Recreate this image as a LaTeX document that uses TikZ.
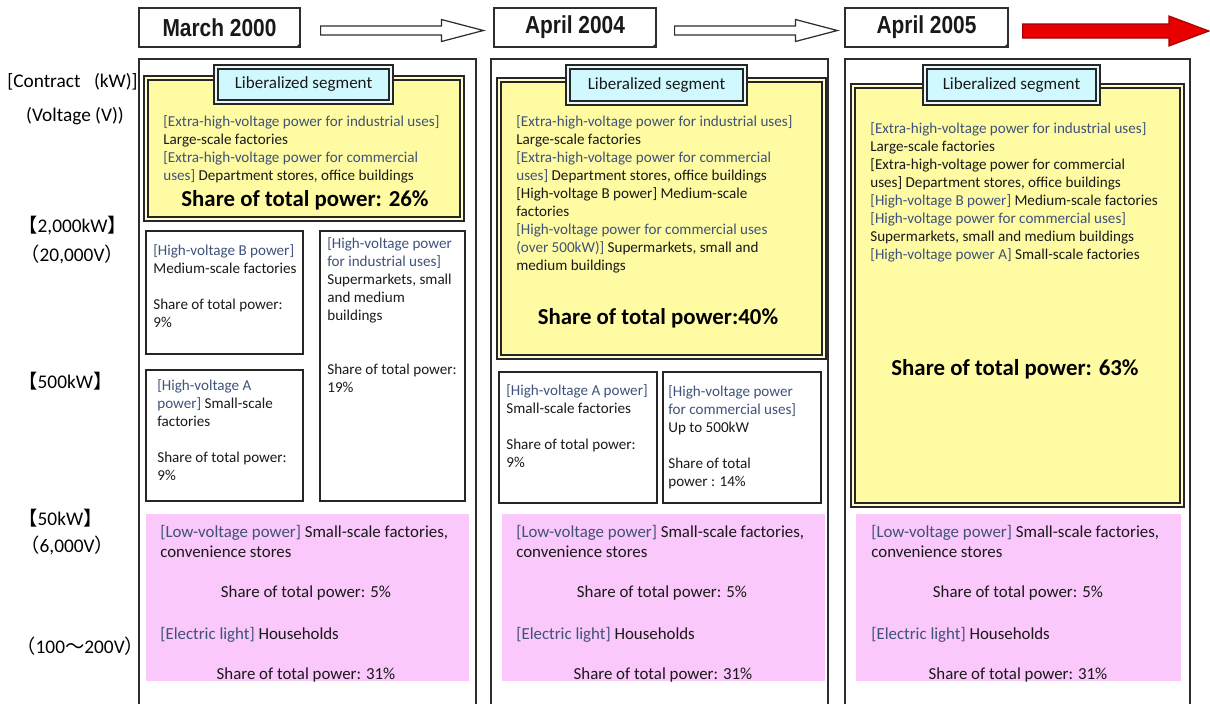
\documentclass[tikz,border=0pt]{standalone}
\usepackage{fontspec}
\setmainfont{Carlito}
\newfontfamily\headfont[FakeStretch=0.85]{Liberation Sans}
\newfontfamily\cjk{Noto Sans CJK JP}
\usepackage{xcolor}
\definecolor{framegray}{RGB}{45,45,45}
\definecolor{libyellow}{RGB}{255,251,163}
\definecolor{segcyan}{RGB}{208,248,255}
\definecolor{lowpink}{RGB}{250,200,250}
\definecolor{tagblue}{RGB}{62,82,122}
\definecolor{inkblack}{RGB}{25,25,25}
\definecolor{arrowred}{RGB}{232,0,0}
\usepackage{tikz}
\usetikzlibrary{
    positioning,
    calc,
    fit
}
\newcommand{\tg}[1]{\textcolor{tagblue}{#1}}

\begin{document}
\begin{tikzpicture}[
        x=0.02cm, y=-0.02cm,
        period/.style={draw=framegray, line width=0.7pt, fill=white, inner sep=0pt},
        periodtext/.style={inner sep=0pt, text=inkblack, font=\headfont\bfseries\fontsize{14}{16}\selectfont},
        hollow/.style={draw=framegray, line width=0.7pt, fill=white},
        redarrow/.style={draw=arrowred!70!black, line width=0.6pt, fill=arrowred},
        column/.style={draw=framegray, line width=0.6pt},
        libbox/.style={draw=black!85, double=libyellow!50!white, double distance=0.9pt, line width=1pt, fill=libyellow, inner sep=0pt},
        seg/.style={draw=black!85, double=segcyan!50!white, double distance=0.9pt, line width=1pt, fill=segcyan, inner sep=0pt},
        segtext/.style={inner sep=0pt, text=inkblack, font=\fontsize{9.7}{11}\selectfont},
        tierbox/.style={draw=black!85, line width=0.7pt, inner sep=0pt},
        lowbox/.style={fill=lowpink, inner sep=0pt},
        txt/.style={anchor=north west, align=left, inner sep=0pt, text=inkblack, font=\fontsize{8.6}{10.25}\selectfont},
        ptxt/.style={txt, font=\fontsize{9.6}{11.4}\selectfont},
        pshare/.style={inner sep=0pt, text=inkblack, font=\fontsize{9.6}{11.4}\selectfont},
        share/.style={inner sep=0pt, text=black, font=\bfseries\fontsize{13}{15}\selectfont},
        lab/.style={inner sep=0pt, text=black, font=\fontsize{11}{13}\selectfont}
    ]
        \useasboundingbox (0,0) rectangle (1210,704);

        % time line
        \node[period, fit={(139,8) (300,47)}] (d2000) {};
        \node[period, fit={(494,8) (656,47)}] (d2004) {};
        \node[period, fit={(845,8) (1008,47)}] (d2005) {};
        \node[periodtext] (d2000t) at (d2000.center) {March 2000};
        \node[periodtext] (d2004t) at (d2004.center) {April 2004};
        \node[periodtext] (d2005t) at (d2005.center) {April 2005};
        \foreach \d in {d2000,d2004,d2005} {
            \fill[framegray] (\d.south east) -- ++(-5,0) -- ++(5,-5) -- cycle;
        }
        \coordinate (future) at (1209,31);

        \draw[hollow] ($(d2000.east)+(20,-1.5)$) -- ($(d2004.west)+(-52,-1.5)$) -- ($(d2004.west)+(-52,-8)$) -- ($(d2004.west)+(-10,3)$) -- ($(d2004.west)+(-52,14)$) -- ($(d2004.west)+(-52,7.5)$) -- ($(d2000.east)+(20,7.5)$) -- cycle;
        \draw[hollow] ($(d2004.east)+(18,-1.5)$) -- ($(d2005.west)+(-49,-1.5)$) -- ($(d2005.west)+(-49,-8)$) -- ($(d2005.west)+(-7,3)$) -- ($(d2005.west)+(-49,14)$) -- ($(d2005.west)+(-49,7.5)$) -- ($(d2004.east)+(18,7.5)$) -- cycle;
        \draw[redarrow] ($(d2005.east)+(14,-3.5)$) -- ($(future)+(-40,-7)$) -- ($(future)+(-40,-15)$) -- (future) -- ($(future)+(-40,15)$) -- ($(future)+(-40,7)$) -- ($(d2005.east)+(14,10.5)$) -- cycle;

        % left scale
        \node[lab, anchor=east] (contract) at (138,82) {[Contract\hspace{0.7em}(kW)]};
        \node[lab] (voltage) at (75,116) {(Voltage (V))};
        \node[lab, anchor=west] (kw2000) at (18,226) {{\cjk 【}2,000kW{\cjk 】}};
        \node[lab, anchor=west] (v20000) at (20,254) {{\cjk （}20,000V{\cjk ）}};
        \node[lab, anchor=west] (kw500) at (18,381) {{\cjk 【}500kW{\cjk 】}};
        \node[lab, anchor=west] (kw50) at (18,518) {{\cjk 【}50kW{\cjk 】}};
        \node[lab, anchor=west] (v6000) at (20,545) {{\cjk （}6,000V{\cjk ）}};
        \node[lab, anchor=west] (v100) at (16,646) {{\cjk （}100{\cjk ～}200V{\cjk ）}};

        % March 2000
        \draw[column] (139,704) |- (476,59) -- (476,704);
        \node[libbox, fit={(146,78) (462,219)}] (lib1) {};
        \node[seg, fit={(216,67) (391,102)}] (seg1) {};
        \node[segtext] (seg1t) at (seg1.center) {Liberalized segment};
        \node[txt] (lib1txt) at (163,115) {\tg{[Extra-high-voltage power for industrial uses]}\\Large-scale factories\\\tg{[Extra-high-voltage power for commercial}\\\tg{uses]} Department stores, office buildings};
        \node[share] (lib1share) at (305,200) {Share of total power: 26\%};

        \node[tierbox, fit={(146,231) (303,354)}] (hvb1) {};
        \node[txt] (hvb1txt) at (153,244) {\tg{[High-voltage B power]}\\Medium-scale factories\\[10.25pt]Share of total power:\\9\%};
        \node[tierbox, fit={(320,231) (465,501)}] (hvi1) {};
        \node[txt] (hvi1txt) at (327,237) {\tg{[High-voltage power}\\\tg{for industrial uses]}\\Supermarkets, small\\and medium\\buildings\\[20.5pt]Share of total power:\\19\%};
        \node[tierbox, fit={(146,370) (303,501)}] (hva1) {};
        \node[txt] (hva1txt) at (157,379) {\tg{[High-voltage A}\\\tg{power]} Small-scale\\factories\\[10.25pt]Share of total power:\\9\%};

        \node[lowbox, fit={(146,514) (469,681)}] (low1) {};
        \node[ptxt] (low1txt) at (160,525) {\tg{[Low-voltage power]} Small-scale factories,\\convenience stores};
        \node[pshare] (low1share) at (306,593) {Share of total power: 5\%};
        \node[ptxt] (light1txt) at (160,627) {\tg{[Electric light]} Households};
        \node[pshare] (light1share) at (306,675) {Share of total power: 31\%};

        % April 2004
        \draw[column] (491,704) |- (828,59) -- (828,704);
        \node[libbox, fit={(499,80) (824,357)}] (lib2) {};
        \node[seg, fit={(568,67) (745,103)}] (seg2) {};
        \node[segtext] (seg2t) at (seg2.center) {Liberalized segment};
        \node[txt] (lib2txt) at (516,115) {\tg{[Extra-high-voltage power for industrial uses]}\\Large-scale factories\\\tg{[Extra-high-voltage power for commercial}\\\tg{uses]} Department stores, office buildings\\{[High-voltage B power]} Medium-scale\\factories\\\tg{[High-voltage power for commercial uses}\\\tg{(over 500kW)]} Supermarkets, small and\\medium buildings};
        \node[share] (lib2share) at (658,318) {Share of total power:40\%};

        \node[tierbox, fit={(499,372) (657,503)}] (hva2) {};
        \node[txt] (hva2txt) at (506,384) {\tg{[High-voltage A power]}\\Small-scale factories\\[10.25pt]Share of total power:\\9\%};
        \node[tierbox, fit={(663,372) (821,503)}] (hvc2) {};
        \node[txt] (hvc2txt) at (668,385) {\tg{[High-voltage power}\\\tg{for commercial uses]}\\Up to 500kW\\[10.25pt]Share of total\\power : 14\%};

        \node[lowbox, fit={(502,514) (825,681)}] (low2) {};
        \node[ptxt] (low2txt) at (516,525) {\tg{[Low-voltage power]} Small-scale factories,\\convenience stores};
        \node[pshare] (low2share) at (662,593) {Share of total power: 5\%};
        \node[ptxt] (light2txt) at (516,627) {\tg{[Electric light]} Households};
        \node[pshare] (light2share) at (663,675) {Share of total power: 31\%};

        % April 2005
        \draw[column] (845,704) |- (1190,59) -- (1190,704);
        \node[libbox, fit={(853,86) (1182,505)}] (lib3) {};
        \node[seg, fit={(925,67) (1098,103)}] (seg3) {};
        \node[segtext] (seg3t) at (seg3.center) {Liberalized segment};
        \node[txt] (lib3txt) at (870,122) {\tg{[Extra-high-voltage power for industrial uses]}\\Large-scale factories\\{[Extra-high-voltage power for commercial}\\uses] Department stores, office buildings\\\tg{[High-voltage B power]} Medium-scale factories\\\tg{[High-voltage power for commercial uses]}\\Supermarkets, small and medium buildings\\\tg{[High-voltage power A]} Small-scale factories};
        \node[share] (lib3share) at (1015,369) {Share of total power: 63\%};

        \node[lowbox, fit={(856,514) (1181,681)}] (low3) {};
        \node[ptxt] (low3txt) at (871,525) {\tg{[Low-voltage power]} Small-scale factories,\\convenience stores};
        \node[pshare] (low3share) at (1018,593) {Share of total power: 5\%};
        \node[ptxt] (light3txt) at (871,627) {\tg{[Electric light]} Households};
        \node[pshare] (light3share) at (1018,675) {Share of total power: 31\%};
    \end{tikzpicture}
\end{document}
